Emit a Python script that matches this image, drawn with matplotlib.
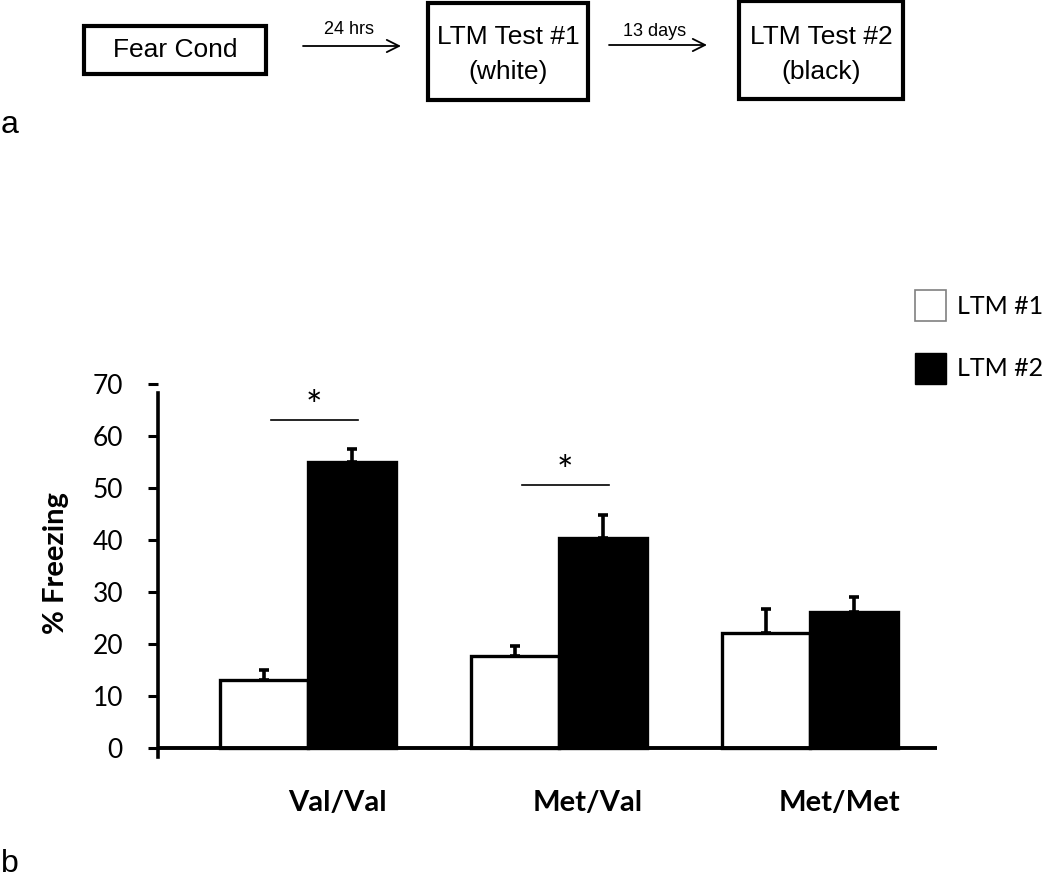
import matplotlib
matplotlib.use('Agg')
import matplotlib.pyplot as plt
from matplotlib.patches import Rectangle, Patch
import matplotlib.transforms as mtransforms
import numpy as np

# ---------------- data ----------------
genotypes = ['Val/Val', 'Met/Val', 'Met/Met']
series_labels = ['LTM #1', 'LTM #2']
ltm1_mean = [13.1, 17.7, 22.2]
ltm1_sem = [1.9, 2.0, 4.5]
ltm2_mean = [55.1, 40.4, 26.2]
ltm2_sem = [2.5, 4.4, 2.8]
y_ticks = [0, 10, 20, 30, 40, 50, 60, 70]
sig_groups = [0, 1]
sig_line_y = [63.1, 50.6]
timeline_steps = ['Fear Cond', 'LTM Test #1\n(white)', 'LTM Test #2\n(black)']
timeline_intervals = ['24 hrs', '13 days']

plt.rcParams['font.family'] = ['Lato', 'DejaVu Sans']

W, H = 1050, 877
fig = plt.figure(figsize=(W / 100, H / 100), dpi=100)


def fx(px):
    return px / W


def fy(py):
    return 1 - py / H


# ---------------- panel a: timeline ----------------
tax = fig.add_axes([0, 0, 1, 1])
tax.set_xlim(0, W)
tax.set_ylim(H, 0)
tax.axis('off')
tax.patch.set_alpha(0)

boxes = [(84, 26, 182, 48), (428, 3, 160, 97), (739, 1, 164, 98)]
tfont = dict(family=['Liberation Sans', 'DejaVu Sans'])
for (bx, by, bw, bh), label in zip(boxes, timeline_steps):
    tax.add_patch(Rectangle((bx, by), bw, bh, fill=False, lw=3, ec='black'))
    lines = label.split('\n')
    if len(lines) == 1:
        tax.text(bx + bw / 2, by + bh / 2, lines[0], ha='center', va='center',
                 fontsize=19, **tfont)
    else:
        tax.text(bx + bw / 2, 37, lines[0], ha='center', va='center', fontsize=19, **tfont)
        tax.text(bx + bw / 2, 72, lines[1], ha='center', va='center', fontsize=19, **tfont)

arrows = [(303, 401, 46), (609, 707, 45)]
label_y = [29, 32]
for (x0, x1, ay), lab, ly in zip(arrows, timeline_intervals, label_y):
    tax.annotate('', xy=(x1, ay), xytext=(x0, ay),
                 arrowprops=dict(arrowstyle='->', lw=1.3, color='black',
                                 mutation_scale=22, shrinkA=0, shrinkB=0))
    tax.text((x0 + x1) / 2 - 3, ly, lab, ha='center', va='center', fontsize=13, **tfont)

tax.text(1, 133, 'a', ha='left', va='baseline', fontsize=23, **tfont)
tax.text(1, 872, 'b', ha='left', va='baseline', fontsize=23, **tfont)

# ---------------- panel b: bar chart ----------------
ax = fig.add_axes([fx(158), fy(757), (937 - 158) / W, (757 - 384) / H])
x = np.arange(len(genotypes))
w = 0.35
ekw = dict(elinewidth=2.6, capsize=3.8, capthick=2.6, ecolor='black', zorder=4)
ax.bar(x - w / 2, ltm1_mean, w, color='white', edgecolor='black', linewidth=2.4,
       yerr=[np.zeros(len(x)), ltm1_sem], error_kw=ekw, zorder=3)
ax.bar(x + w / 2, ltm2_mean, w, color='black', edgecolor='black', linewidth=2.4,
       yerr=[np.zeros(len(x)), ltm2_sem], error_kw=ekw, zorder=3)

ax.axhline(0, color='black', lw=2.8, zorder=5)

for g, yy in zip(sig_groups, sig_line_y):
    ax.plot([g - 0.147, g + 0.2], [yy, yy], color='black', lw=1.2)
    ax.text(g + 0.022, yy + 0.2, '*', ha='center', va='baseline', fontsize=28)

ax.set_xlim(-0.598, 2.506)
ax.set_ylim(-1.7, 70)
for s in ['top', 'right', 'bottom']:
    ax.spines[s].set_visible(False)
ax.spines['left'].set_linewidth(2.6)
ax.spines['left'].set_bounds(-1.7, 68.3)

ax.set_yticks(y_ticks)
ax.tick_params(axis='y', direction='out', length=7.2, width=2.2, pad=18, labelsize=19)
ax.set_xticks(x)
ax.set_xticklabels(genotypes, fontsize=21, fontweight='bold')
ax.tick_params(axis='x', length=0, pad=24)
offset = mtransforms.ScaledTranslation(29 / 100, 0, fig.dpi_scale_trans)
for lab in ax.get_xticklabels():
    lab.set_transform(lab.get_transform() + offset)

ax.set_ylabel('% Freezing', fontsize=21, fontweight='bold', va='center')
ax.yaxis.set_label_coords(-0.131, 0.52)

handles = [Patch(facecolor='white', edgecolor='#808080', linewidth=1.2),
           Patch(facecolor='black', edgecolor='black')]
fig.legend(handles, series_labels, loc='upper left', bbox_to_anchor=(fx(915), fy(290)),
           frameon=False, fontsize=18, handlelength=1.24, handleheight=1.5,
           handletextpad=0.44, labelspacing=1.3, borderpad=0, borderaxespad=0)

fig.savefig('out.png', dpi=100)
